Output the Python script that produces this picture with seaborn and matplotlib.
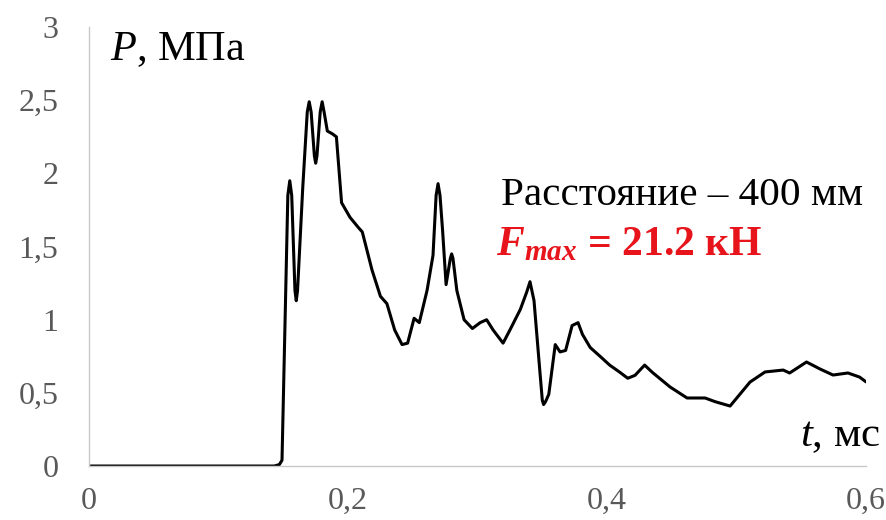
import matplotlib
matplotlib.use("Agg")
import matplotlib.pyplot as plt
import seaborn as sns
import pandas as pd

t_ms = [0.0, 0.100, 0.143, 0.147, 0.149, 0.1535, 0.155, 0.1565, 0.159, 0.160, 0.161,
        0.165, 0.1685, 0.170, 0.1715, 0.1740, 0.175, 0.176, 0.1785, 0.180, 0.1815,
        0.184, 0.188, 0.191, 0.195, 0.2015, 0.208, 0.211, 0.2185, 0.225, 0.230,
        0.236, 0.2417, 0.246, 0.251, 0.255, 0.261, 0.2656, 0.268, 0.2695, 0.271,
        0.273, 0.2757, 0.279, 0.280, 0.281,
        0.284, 0.2896, 0.296, 0.302, 0.307, 0.312, 0.3197, 0.325, 0.333,
        0.338, 0.3405, 0.3436, 0.348, 0.350, 0.351, 0.3525, 0.355, 0.360, 0.3637,
        0.368, 0.373, 0.3776, 0.381, 0.387, 0.3946, 0.402, 0.410, 0.416, 0.4216,
        0.429, 0.435, 0.4487, 0.4618, 0.4757, 0.4834, 0.495, 0.5104, 0.522, 0.536,
        0.541, 0.554, 0.5645, 0.5745, 0.586, 0.595, 0.600]
p_mpa = [0.0, 0.0, 0.0, 0.01, 0.04, 1.85, 1.95, 1.85, 1.20, 1.13, 1.20,
         1.90, 2.42, 2.49, 2.42, 2.12, 2.07, 2.12, 2.42, 2.49, 2.42,
         2.29, 2.27, 2.25, 1.80, 1.70, 1.63, 1.60, 1.34, 1.16, 1.11,
         0.93, 0.83, 0.84, 1.01, 0.98, 1.20, 1.44, 1.85, 1.93, 1.85,
         1.61, 1.24, 1.42, 1.45, 1.42,
         1.20, 1.00, 0.94, 0.98, 1.00, 0.93, 0.84, 0.93, 1.07,
         1.19, 1.26, 1.13, 0.66, 0.45, 0.42, 0.44, 0.49, 0.83, 0.78,
         0.79, 0.96, 0.98, 0.90, 0.81, 0.75, 0.69, 0.64, 0.60, 0.62,
         0.69, 0.64, 0.54, 0.465, 0.465, 0.44, 0.41, 0.574, 0.643, 0.656,
         0.636, 0.711, 0.663, 0.622, 0.636, 0.608, 0.575]

x_ticks = [0, 0.2, 0.4, 0.6]
x_tick_labels = ["0", "0,2", "0,4", "0,6"]
y_ticks = [0, 0.5, 1, 1.5, 2, 2.5, 3]
y_tick_labels = ["0", "0,5", "1", "1,5", "2", "2,5", "3"]

sns.set_theme(style="white")
plt.rcParams["font.family"] = ["Liberation Serif", "DejaVu Serif"]
plt.rcParams["mathtext.fontset"] = "custom"
plt.rcParams["mathtext.rm"] = "Liberation Serif"
plt.rcParams["mathtext.it"] = "Liberation Serif:italic"
plt.rcParams["mathtext.bf"] = "Liberation Serif:italic:bold"

df = pd.DataFrame({"t": t_ms, "P": p_mpa})

fig = plt.figure(figsize=(8.86, 5.2), dpi=100)
ax = fig.add_axes([0.1005, 0.1038, 0.877, 0.844])
sns.lineplot(data=df, x="t", y="P", ax=ax, color="black", linewidth=2.2)
for ln in ax.get_lines():
    ln.set_solid_joinstyle("round")
    ln.set_solid_capstyle("round")

ax.set_xlim(0, 0.6)
ax.set_ylim(0, 3)
ax.set_xticks(x_ticks)
ax.set_xticklabels(x_tick_labels)
ax.set_yticks(y_ticks)
ax.set_yticklabels(y_tick_labels)
ax.tick_params(axis="both", length=0, labelsize=23, colors="#595959")
ax.tick_params(axis="y", pad=22)
ax.tick_params(axis="x", pad=15)
ax.set_xlabel("")
ax.set_ylabel("")
for s in ["top", "right"]:
    ax.spines[s].set_visible(False)
for s in ["left", "bottom"]:
    ax.spines[s].set_color("#c8c8c8")
    ax.spines[s].set_linewidth(1.0)

ax.text(0.027, 0.948, r"$\mathit{P}$, МПа", transform=ax.transAxes, fontsize=30.5,
        color="black", ha="left", va="center")
ax.text(1.018, 0.068, r"$\mathit{t}$, мс", transform=ax.transAxes, fontsize=31,
        color="black", ha="right", va="center", clip_on=False)
ax.text(0.996, 0.617, "Расстояние – 400 мм", transform=ax.transAxes, fontsize=29.6,
        color="black", ha="right", va="center")
ax.text(0.524, 0.503, r"$\mathbf{F}_{\mathbf{max}}$ = 21.2 кН", transform=ax.transAxes,
        fontsize=30, color="#e8141c", fontweight="bold", ha="left", va="center")

fig.savefig("out.png", dpi=100, facecolor="white")
